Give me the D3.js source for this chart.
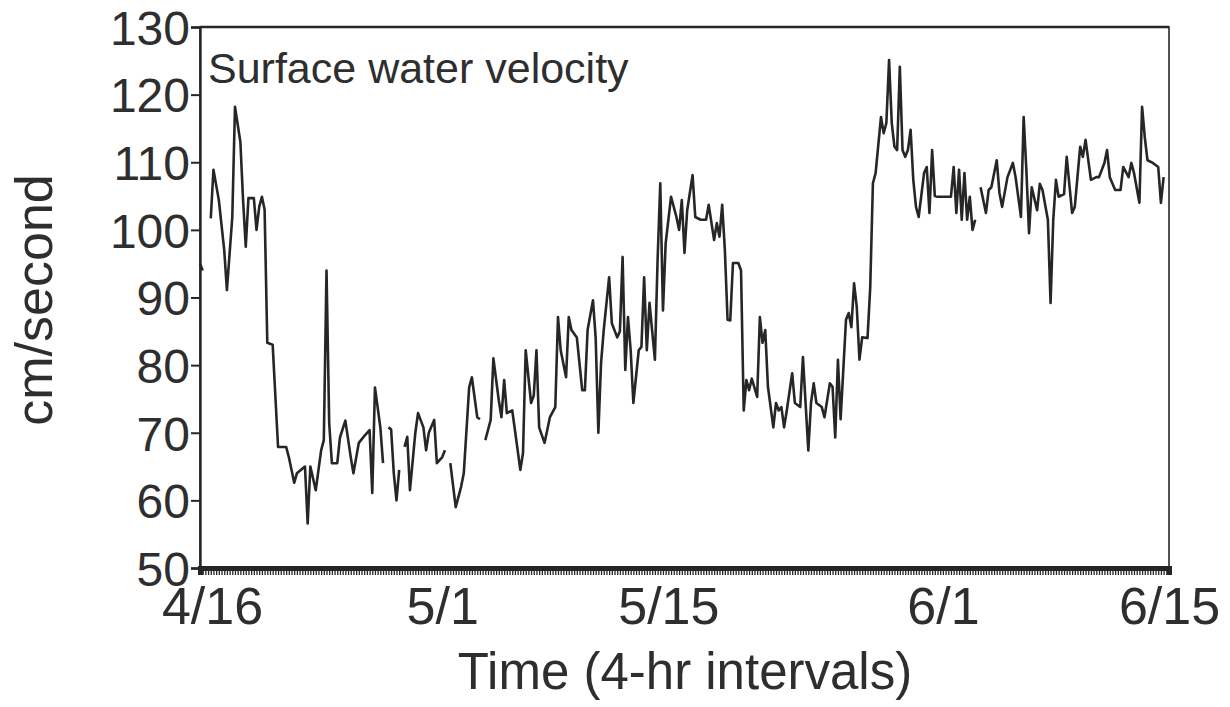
<!DOCTYPE html>
<html>
<head>
<meta charset="utf-8">
<script src="https://cdn.jsdelivr.net/npm/d3@7"></script>
<style>
  html, body { margin: 0; padding: 0; background: #ffffff; }
  svg { display: block; }
  text { font-family: "Liberation Sans", Arial, Helvetica, sans-serif; fill: #2e2e2e; }
</style>
</head>
<body>
<svg id="chart" width="1230" height="707"></svg>
<script>
// ---- data ----
const chartTitle = "Surface water velocity";
const yLabel = "cm/second";
const xLabel = "Time (4-hr intervals)";
const startDate = new Date(2000, 3, 16, 0, 0);   // 4/16
const endDate = new Date(2000, 5, 15, 0, 0);     // 6/15
const xTickLabels = ["4/16", "5/1", "5/15", "6/1", "6/15"];
const xTickDates = [new Date(2000, 3, 16), new Date(2000, 4, 1), new Date(2000, 4, 15), new Date(2000, 5, 1), new Date(2000, 5, 15)];
const yTicks = [50, 60, 70, 80, 90, 100, 110, 120, 130];

// 4-hr interval index since 4/16 00:00
const steps = [0,1,2,4,5,7,9,10,12,13,15,16,17,18,20,21,22,23,24,25,27,29,32,33,35,36,39,40,41,43,45,46,47,48,49,51,52,54,56,57,59,61,63,64,65,67,68,69,70,71,72,73,74,75,76,77,78,80,81,83,84,85,87,88,90,91,92,93,95,97,98,100,101,103,104,105,106,108,109,111,112,113,114,116,117,119,120,121,123,124,125,126,128,130,132,133,134,136,137,138,140,142,143,144,146,147,148,149,150,152,153,155,156,157,158,159,160,161,163,164,165,166,167,169,170,171,172,173,175,177,178,179,180,181,183,184,186,188,189,191,192,193,194,195,196,197,198,200,201,202,203,204,205,207,208,209,210,211,213,214,215,216,217,218,220,221,223,224,226,227,228,229,231,232,234,235,236,237,238,240,241,242,243,244,245,246,248,249,250,251,253,254,255,256,257,258,259,260,261,262,263,264,265,266,267,269,270,271,272,273,274,276,279,280,281,282,283,284,285,286,287,288,289,290,292,293,294,296,297,298,300,302,303,305,306,307,308,309,311,312,313,315,316,317,318,319,321,322,324,325,327,328,329,331,333,334,336,337,338,340,342,343,345,346,347,349,350,351,352,354,356,357,358];

// velocity (cm/s); null = gap in record
const velocity = [95,94,null,101.7,108.9,104.4,97,91.1,101.9,118.2,113,104.4,97.5,104.7,104.7,100,103.4,104.9,103,83.3,83,67.9,67.9,66.4,62.6,64,65,56.6,65,61.5,67.4,68.9,94,71.4,65.5,65.5,69.3,71.8,66.4,64,68.5,69.5,70.4,61.1,76.7,70.8,65.5,null,70.8,70.5,64,60,64.5,null,67.9,69.4,61.5,70,72.9,70.8,67.4,70,71.9,65.5,66.4,67.4,null,65.5,59,62,64,76.7,78.2,72.3,72,null,68.9,71.9,81,74.8,72.3,77.8,72.9,73.3,70.4,64.5,67,82.2,74.4,75.5,82.2,70.8,68.5,72.3,73.8,87.1,82.2,78.2,87.1,85.2,84.1,76.3,76.3,85.2,89.6,84,70,80.3,85.2,93,86.2,84.1,85,96,79.3,87.1,82.2,74.4,82.2,82.7,93,82.2,89.2,80.8,95.5,106.9,88.1,98,104.9,101.9,100,104.4,96.6,102.9,108.1,101.9,101.5,101.5,103.7,98.5,101,99,103.7,97,86.7,86.6,95.1,95.1,94,73.3,77.8,76.3,78,75.3,87.1,83.3,85.2,76.8,70.8,74.4,73.3,73.8,70.8,73.3,78.8,74.4,73.8,81.2,67.4,74.4,77.3,74.4,73.8,72.3,77.3,76.8,69.3,80.8,72,86.7,87.7,85.6,92.1,88.6,80.8,84.1,84,91.5,106.9,108.4,116.7,114.3,115.8,125.1,115.8,112.3,111.8,124.1,111.8,110.8,111.8,114.8,107.4,103.4,101.9,108.4,109.3,102.5,111.8,105,104.9,104.9,104.9,109.3,102.5,108.9,101.5,108.4,101.5,104.9,100,101.5,null,106.3,102.5,105.9,106.3,110.3,105.5,103.4,107.8,109.9,107.8,101.9,116.7,108.9,99.5,106.3,102.9,106.8,105.9,101.5,89.2,101.5,107.4,104.9,105.3,110.8,102.5,103.4,112.3,110.8,113.3,107.4,107.8,107.8,109.9,111.8,107.8,105.9,105.9,109.3,107.8,109.9,108.4,104,118.2,113.7,110.3,109.9,109.3,104,107.8];

const records = steps.map((s, i) => ({ t: d3.timeHour.offset(startDate, 4 * s), v: velocity[i] }));
const totalSteps = Math.round((endDate - startDate) / (4 * 3600 * 1000));
const stepDates = d3.range(0, totalSteps + 1).map(s => d3.timeHour.offset(startDate, 4 * s));

// ---- layout ----
const margin = { left: 200, right: 61, top: 27, bottom: 139 };
const W = 1230, H = 707;
const innerW = W - margin.left - margin.right;
const innerH = H - margin.top - margin.bottom;
const ink = "#262626";

const svg = d3.select("#chart");
const g = svg.append("g").attr("transform", `translate(${margin.left},${margin.top})`);

const x = d3.scaleTime().domain([startDate, endDate]).range([0, innerW]);
const y = d3.scaleLinear().domain([50, 130]).range([innerH, 0]);

// frame
g.append("rect")
  .attr("x", 0).attr("y", 0).attr("width", innerW).attr("height", innerH)
  .attr("fill", "none").attr("stroke", ink).attr("stroke-width", 1.6);
g.append("line").attr("x1", 0).attr("x2", innerW).attr("y1", 0).attr("y2", 0)
  .attr("stroke", ink).attr("stroke-width", 2.6);

// y axis
const yAxis = g.append("g")
  .call(d3.axisLeft(y).tickValues(yTicks).tickSize(9).tickPadding(1).tickFormat(d3.format("d")));
yAxis.select(".domain").attr("stroke", ink).attr("stroke-width", 2.4);
yAxis.selectAll(".tick line").attr("stroke", ink).attr("stroke-width", 2);
yAxis.selectAll(".tick text").attr("font-size", 48).attr("fill", "#2e2e2e")
  .attr("dy", "0.36em")
  .attr("font-family", "'Liberation Sans', Arial, sans-serif");

// x axis: dense 4-hr tick comb
const xMinor = g.append("g").attr("transform", `translate(0,${innerH})`)
  .call(d3.axisBottom(x).tickValues(stepDates).tickSize(7).tickFormat(""));
xMinor.select(".domain").attr("stroke", ink).attr("stroke-width", 5);
xMinor.selectAll(".tick line").attr("stroke", ink).attr("stroke-width", 1.3);

// x axis labels
const xLab = g.append("g").attr("transform", `translate(0,${innerH})`)
  .call(d3.axisBottom(x).tickValues(xTickDates).tickSize(0).tickPadding(19)
    .tickFormat((d, i) => xTickLabels[i]));
xLab.select(".domain").remove();
xLab.selectAll(".tick text").attr("font-size", 52).attr("fill", "#2e2e2e")
  .attr("dx", (d, i) => i === 0 ? 12 : 0)
  .attr("font-family", "'Liberation Sans', Arial, sans-serif");

// line
const line = d3.line()
  .defined(d => d.v !== null)
  .x(d => x(d.t))
  .y(d => y(d.v));
g.append("path")
  .datum(records)
  .attr("fill", "none")
  .attr("stroke", "#262626")
  .attr("stroke-width", 2.6)
  .attr("stroke-linejoin", "round")
  .attr("d", line);

// title inside plot
g.append("text")
  .attr("x", 8).attr("y", 56)
  .attr("font-size", 43)
  .text(chartTitle);

// axis titles
svg.append("text")
  .attr("transform", `translate(52,300) rotate(-90)`)
  .attr("text-anchor", "middle")
  .attr("font-size", 52)
  .text(yLabel);

svg.append("text")
  .attr("x", 685)
  .attr("y", 689)
  .attr("text-anchor", "middle")
  .attr("font-size", 51)
  .text(xLabel);
</script>
</body>
</html>
